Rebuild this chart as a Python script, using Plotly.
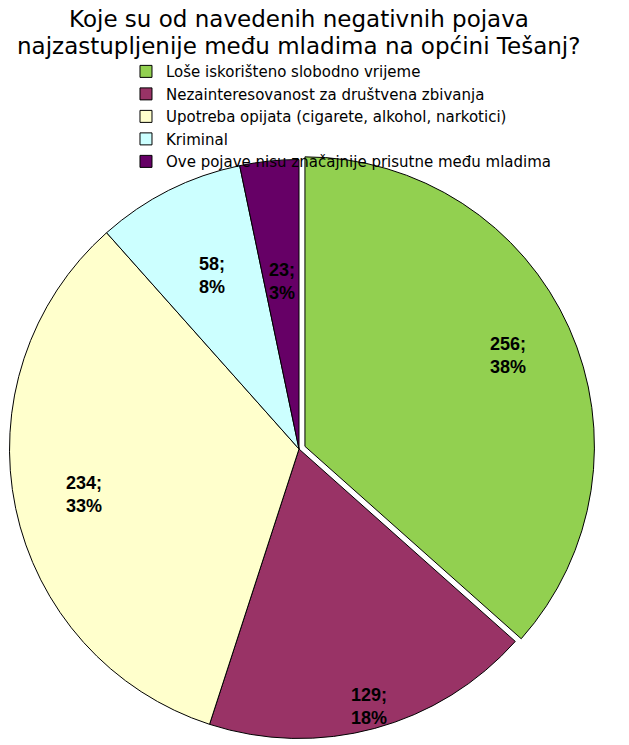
import math
import plotly.graph_objects as go

# ---- data ----
categories = [
    "Loše iskorišteno slobodno vrijeme",
    "Nezainteresovanost za društvena zbivanja",
    "Upotreba opijata (cigarete, alkohol, narkotici)",
    "Kriminal",
    "Ove pojave nisu značajnije prisutne među mladima",
]
values = [256, 129, 234, 58, 23]
percent_labels = ["38%", "18%", "33%", "8%", "3%"]
title_lines = [
    "Koje su od navedenih negativnih pojava",
    "najzastupljenije među mladima na općini Tešanj?",
]

# ---- style ----
colors = ["#92D050", "#993366", "#FFFFCC", "#CCFFFF", "#660066"]
pulls = [0.0225, 0, 0, 0, 0]
label_radius = [0.77, 0.92, 0.76, 0.67, 0.58]  # radial placement of data labels (fraction of radius)

W, H = 629, 745
dom_x = [2 / W, 596 / W]
dom_y = [0, 592 / H]

fig = go.Figure(
    go.Pie(
        labels=categories,
        values=values,
        textinfo="none",
        marker=dict(colors=colors, line=dict(color="black", width=1)),
        pull=pulls,
        sort=False,
        direction="clockwise",
        rotation=0,
        domain=dict(x=dom_x, y=dom_y),
        hoverinfo="label+value+percent",
    )
)

# data labels placed along each slice's mid-angle (computed from values)
max_pull = max(pulls)
r_px = min(W * (dom_x[1] - dom_x[0]), H * (dom_y[1] - dom_y[0])) / (2 + 2 * max_pull)
cx = (dom_x[0] + dom_x[1]) / 2
cy = (dom_y[0] + dom_y[1]) / 2
total = sum(values)
cum = 0
annotations = []
for v, pct, rf, pl in zip(values, percent_labels, label_radius, pulls):
    mid = (cum + v / 2) / total * 2 * math.pi
    cum += v
    rr = (rf + pl) * r_px
    annotations.append(
        dict(
            x=cx + rr * math.sin(mid) / W,
            y=cy + rr * math.cos(mid) / H,
            xref="paper",
            yref="paper",
            text=f"{v};<br>{pct}",
            showarrow=False,
            align="left",
            xanchor="center",
            yanchor="middle",
            font=dict(family="Liberation Sans", size=18, color="black", weight="bold"),
        )
    )

# title (two lines)
for line, ypx in zip(title_lines, [19, 46]):
    annotations.append(
        dict(
            x=0.4746,
            y=1 - ypx / H,
            xref="paper",
            yref="paper",
            text=line,
            showarrow=False,
            xanchor="center",
            yanchor="middle",
            font=dict(family="DejaVu Sans", size=23, color="black"),
        )
    )

fig.update_layout(
    width=W,
    height=H,
    margin=dict(l=0, r=0, t=0, b=0),
    paper_bgcolor="white",
    plot_bgcolor="white",
    showlegend=True,
    legend=dict(
        x=0.2003,
        y=0.926,
        xanchor="left",
        yanchor="top",
        font=dict(family="DejaVu Sans", size=15, color="black"),
        bgcolor="rgba(0,0,0,0)",
        traceorder="normal",
    ),
    annotations=annotations,
)

fig.write_html(
    "out.html",
    config={"displayModeBar": False},
    post_script="document.body.style.margin='0px';",
)
